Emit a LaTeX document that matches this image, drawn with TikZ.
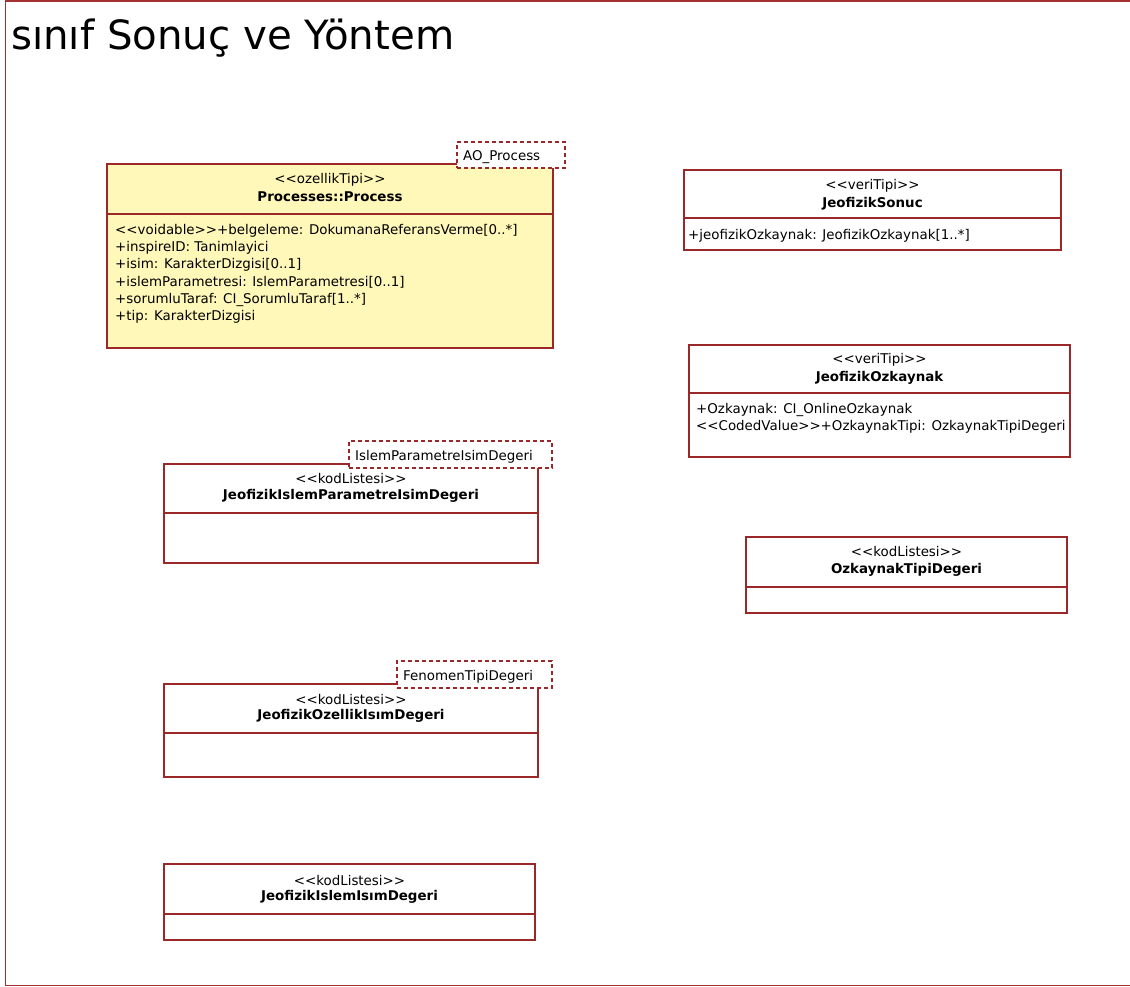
\documentclass[tikz,border=0pt]{standalone}
\usepackage{fontspec}
\setmainfont{DejaVu Sans}
\newfontfamily\umlfont{DejaVu Sans}
\definecolor{umlred}{RGB}{155,40,40}
\definecolor{framered}{RGB}{165,50,50}
\definecolor{procfill}{RGB}{255,248,185}
\newcommand{\bodyfont}{\umlfont\fontsize{13.4}{17.3}\selectfont}
\newcommand{\titlefont}{\umlfont\fontsize{40.3}{46}\selectfont}
\tikzset{
  cls/.style={draw=umlred, line width=1.1pt, fill=white, anchor=north west,
              inner sep=0pt, outer sep=0pt},
  tagbox/.style={draw=umlred, line width=1.1pt, dash pattern=on 4pt off 3pt,
                 fill=white, anchor=north west, inner sep=0pt, outer sep=0pt},
  divider/.style={draw=umlred, line width=1.1pt},
  stereo/.style={font=\bodyfont, inner sep=0pt},
  cname/.style={font=\bodyfont\bfseries, inner sep=0pt},
  attrs/.style={font=\bodyfont, align=left, anchor=north west, inner sep=0pt},
  tagtext/.style={font=\bodyfont, anchor=west, inner sep=0pt},
}
\begin{document}
\begin{tikzpicture}[x=1pt,y=-1pt]
\useasboundingbox (0,0) rectangle (1130,987);
\fill[white] (0,0) rectangle (1130,987);

% diagram frame
\draw[framered, line width=1.5pt] (1131,0.8) -- (5.5,0.8) -- (5.5,985.5) -- (1131,985.5);
\node[font=\titlefont, anchor=west, inner sep=0pt] (title) at (11,38) {sınıf Sonuç ve Yöntem};

% Processes::Process
\node[cls, fill=procfill, minimum width=446pt, minimum height=184pt] (proc) at (107,164) {};
\draw[divider] ([yshift=-50pt]proc.north west) -- ([yshift=-50pt]proc.north east);
\node[stereo] (procst) at ([yshift=-16pt]proc.north) {<<ozellikTipi>>};
\node[cname] (procnm) at ([yshift=-33pt]proc.north) {Processes::Process};
\node[attrs] (procat) at ([xshift=8pt,yshift=-60pt]proc.north west)
  {<<voidable>>+belgeleme: DokumanaReferansVerme[0..*]\\
   +inspireID: Tanimlayici\\
   +isim: KarakterDizgisi[0..1]\\
   +islemParametresi: IslemParametresi[0..1]\\
   +sorumluTaraf: CI\_SorumluTaraf[1..*]\\
   +tip: KarakterDizgisi};
\node[tagbox, minimum width=108pt, minimum height=26pt] (proctag) at (457,142) {};
\node[tagtext] at ([xshift=6pt,yshift=-2pt]proctag.west) {AO\_Process};

% JeofizikSonuc
\node[cls, minimum width=377pt, minimum height=80pt] (sonuc) at (684,170) {};
\draw[divider] ([yshift=-48pt]sonuc.north west) -- ([yshift=-48pt]sonuc.north east);
\node[stereo] at ([yshift=-16pt]sonuc.north) {<<veriTipi>>};
\node[cname] at ([yshift=-34pt]sonuc.north) {JeofizikSonuc};
\node[attrs] at ([xshift=4pt,yshift=-59pt]sonuc.north west)
  {+jeofizikOzkaynak: JeofizikOzkaynak[1..*]};

% JeofizikOzkaynak
\node[cls, minimum width=381pt, minimum height=112pt] (ozk) at (689,345) {};
\draw[divider] ([yshift=-48pt]ozk.north west) -- ([yshift=-48pt]ozk.north east);
\node[stereo] at ([yshift=-15pt]ozk.north) {<<veriTipi>>};
\node[cname] at ([yshift=-33pt]ozk.north) {JeofizikOzkaynak};
\node[attrs] at ([xshift=7pt,yshift=-58pt]ozk.north west)
  {+Ozkaynak: CI\_OnlineOzkaynak\\
   <<CodedValue>>+OzkaynakTipi: OzkaynakTipiDegeri};

% OzkaynakTipiDegeri
\node[cls, minimum width=321pt, minimum height=76pt] (ozktip) at (746,537) {};
\draw[divider] ([yshift=-50pt]ozktip.north west) -- ([yshift=-50pt]ozktip.north east);
\node[stereo] at ([yshift=-15pt]ozktip.north) {<<kodListesi>>};
\node[cname] at ([yshift=-33pt]ozktip.north) {OzkaynakTipiDegeri};

% JeofizikIslemParametreIsimDegeri
\node[cls, minimum width=374pt, minimum height=99pt] (parm) at (164,464) {};
\draw[divider] ([yshift=-49pt]parm.north west) -- ([yshift=-49pt]parm.north east);
\node[stereo] at ([yshift=-15pt]parm.north) {<<kodListesi>>};
\node[cname] at ([yshift=-32pt]parm.north) {JeofizikIslemParametreIsimDegeri};
\node[tagbox, minimum width=203pt, minimum height=27pt] (parmtag) at (349,441) {};
\node[tagtext] at ([xshift=6pt,yshift=-2pt]parmtag.west) {IslemParametreIsimDegeri};

% JeofizikOzellikIsimDegeri
\node[cls, minimum width=374pt, minimum height=93pt] (ozel) at (164,684) {};
\draw[divider] ([yshift=-49pt]ozel.north west) -- ([yshift=-49pt]ozel.north east);
\node[stereo] at ([yshift=-15pt]ozel.north) {<<kodListesi>>};
\node[cname] at ([yshift=-32pt]ozel.north) {JeofizikOzellikIsımDegeri};
\node[tagbox, minimum width=155pt, minimum height=27pt] (ozeltag) at (397,661) {};
\node[tagtext] at ([xshift=6pt,yshift=-2pt]ozeltag.west) {FenomenTipiDegeri};

% JeofizikIslemIsimDegeri
\node[cls, minimum width=371pt, minimum height=76pt] (islem) at (164,864) {};
\draw[divider] ([yshift=-50pt]islem.north west) -- ([yshift=-50pt]islem.north east);
\node[stereo] at ([yshift=-16pt]islem.north) {<<kodListesi>>};
\node[cname] at ([yshift=-33pt]islem.north) {JeofizikIslemIsımDegeri};
\end{tikzpicture}
\end{document}
